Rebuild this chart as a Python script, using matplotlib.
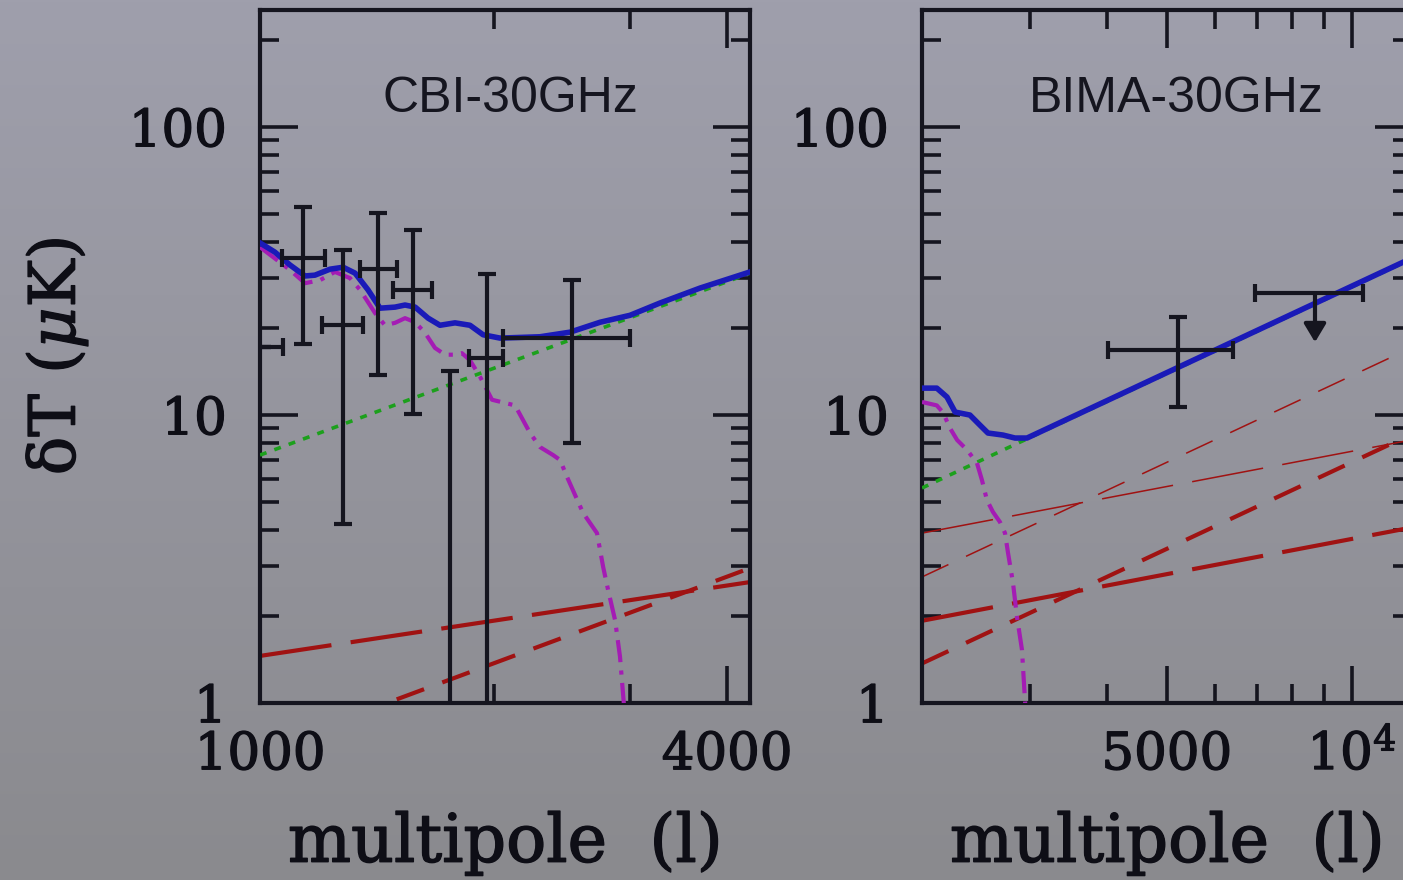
import numpy as np
import matplotlib
matplotlib.use("Agg")
import matplotlib.pyplot as plt
import matplotlib.patheffects as pe
from matplotlib.ticker import FixedLocator, FixedFormatter, NullFormatter

# ---------------- data ----------------
# CBI-30GHz panel
cbi_tot_l = [1000, 1045, 1093, 1143, 1177, 1231, 1280, 1326, 1378, 1428, 1493, 1538,
             1585, 1647, 1706, 1784, 1865, 1939, 2039, 2296, 2510, 2744, 2999, 3279,
             3692, 4282]
cbi_tot_T = [39.6, 36.8, 33.2, 30.4, 30.6, 32.1, 32.6, 31.1, 27.2, 23.5, 23.7, 24.1,
             23.7, 21.7, 20.5, 20.9, 20.5, 19.0, 18.5, 18.7, 19.4, 21.0, 22.2, 24.5,
             27.6, 31.4]
cbi_cmb_l = [1000, 1093, 1143, 1195, 1249, 1306, 1346, 1407, 1449, 1493, 1538, 1585,
             1632, 1681, 1732, 1784, 1821, 1865, 1921, 1962, 1991, 2132, 2229, 2296,
             2387, 2437, 2488, 2609, 2719, 2769, 2810, 2869, 2911, 2946, 2960]
cbi_cmb_T = [38.3, 31.9, 28.7, 29.4, 31.4, 29.9, 27.2, 22.6, 20.5, 20.9, 21.7, 21.0,
             19.3, 17.1, 16.2, 16.2, 16.4, 15.5, 13.6, 12.2, 11.3, 10.8, 8.66, 7.74,
             7.26, 6.98, 6.09, 4.57, 3.89, 2.97, 2.47, 1.94, 1.45, 0.98, 0.8]
cbi_ps_l = [1000, 4282]
cbi_ps_T = [7.26, 31.1]
cbi_red1_l = [1000, 4282]          # shallow, long dashes
cbi_red1_T = [1.457, 2.63]
cbi_red2_l = [1000, 4282]          # steep, short dashes
cbi_red2_T = [0.686, 2.94]

cbi_pt_l = [1005, 1136, 1280, 1419, 1575, 1758, 1962, 2525]
cbi_pt_l_lo = [990, 1067, 1202, 1346, 1484, 1758, 1860, 2057]
cbi_pt_l_hi = [1071, 1213, 1358, 1502, 1666, 1758, 2057, 2999]
cbi_pt_T = [17.2, 35.1, 20.5, 32.1, 27.2, 0.5, 15.8, 18.5]
cbi_pt_T_lo = [17.2, 17.6, 4.18, 13.8, 10.1, 0.3, 0.3, 8.0]
cbi_pt_T_hi = [17.2, 52.7, 37.4, 50.3, 43.9, 14.2, 30.9, 29.4]

# BIMA-30GHz panel
bima_tot_l = [2000, 2114, 2196, 2264, 2393, 2484, 2560, 2709, 2833, 2963, 12524]
bima_tot_T = [12.4, 12.4, 11.55, 10.24, 10.0, 9.23, 8.66, 8.52, 8.32, 8.32, 35.1]
bima_cmb_l = [2000, 2114, 2164, 2220, 2281, 2368, 2457, 2503, 2550, 2608, 2678, 2729,
              2760, 2812, 2854, 2908, 2941, 2960]
bima_cmb_T = [11.1, 10.8, 10.2, 9.02, 8.19, 7.56, 6.81, 5.95, 5.07, 4.61, 4.25, 3.89,
              3.32, 2.61, 1.99, 1.53, 1.02, 0.85]
bima_ps_l = [2000, 12524]
bima_ps_T = [5.58, 34.9]
bima_red1_l = [2000, 12524]        # thick shallow
bima_red1_T = [1.93, 4.07]
bima_red2_l = [2000, 12524]        # thick steep
bima_red2_T = [1.372, 8.59]
bima_red3_l = [2000, 12524]        # thin shallow
bima_red3_T = [3.89, 8.2]
bima_red4_l = [2000, 12524]        # thin steep
bima_red4_T = [2.74, 17.16]

bima_pt_l = [5216]
bima_pt_l_lo = [4008]
bima_pt_l_hi = [6409]
bima_pt_T = [16.8]
bima_pt_T_lo = [10.7]
bima_pt_T_hi = [21.9]

bima_ul_l = [8710]
bima_ul_l_lo = [6959]
bima_ul_l_hi = [10425]
bima_ul_T = [26.5]
bima_ul_tip = [17.9]

y_major = [1, 10, 100]
y_major_labels = ['1', '10', '100']
y_minor = [2, 3, 4, 5, 6, 7, 8, 9, 20, 30, 40, 50, 60, 70, 80, 90, 200]

cbi_x_major = [1000, 4000]
cbi_x_labels = ['1000', '4000']
cbi_x_minor = [2000, 3000]
bima_x_major = [5000, 10000]
bima_x_labels = ['5000', r'$\mathdefault{10^{4}}$']
bima_x_minor = [2000, 3000, 4000, 6000, 7000, 8000, 9000]

# ---------------- style ----------------
plt.rcParams['font.family'] = ['DejaVu Serif']
plt.rcParams['mathtext.fontset'] = 'dejavuserif'
plt.rcParams['lines.scale_dashes'] = False

ink = '#15151f'
txt = '#0e0e16'
c_blue = '#1a1ab8'
c_mag = '#a41cb4'
c_green = '#1ca01c'
c_red = '#a01212'
bold = [pe.withStroke(linewidth=1.0, foreground=txt)]

fig = plt.figure(figsize=(14.03, 8.8), dpi=100)

bg = fig.add_axes([0, 0, 1, 1], zorder=-10)
g = np.linspace(0, 1, 256)[:, None, None]
top = np.array([159, 159, 172]) / 255.0
bot = np.array([138, 138, 142]) / 255.0
bg.imshow(top + (bot - top) * g, aspect='auto', extent=[0, 1, 0, 1])
bg.set_axis_off()

ax1 = fig.add_axes([260 / 1403, 177 / 880, 490 / 1403, 693 / 880])
ax2 = fig.add_axes([922 / 1403, 177 / 880, 490 / 1403, 693 / 880])


def style(ax, xlim, major, labels, minor, title, tx):
    ax.set_xscale('log')
    ax.set_yscale('log')
    ax.set_xlim(*xlim)
    ax.set_ylim(1, 255)
    ax.set_facecolor('none')
    for s in ax.spines.values():
        s.set_linewidth(3.0)
        s.set_color(ink)
    ax.xaxis.set_major_locator(FixedLocator(major))
    ax.xaxis.set_major_formatter(FixedFormatter(labels))
    ax.xaxis.set_minor_locator(FixedLocator(minor))
    ax.xaxis.set_minor_formatter(NullFormatter())
    ax.yaxis.set_major_locator(FixedLocator(y_major))
    ax.yaxis.set_major_formatter(FixedFormatter(y_major_labels))
    ax.yaxis.set_minor_locator(FixedLocator(y_minor))
    ax.yaxis.set_minor_formatter(NullFormatter())
    ax.tick_params(which='both', direction='in', top=True, right=True,
                   color=ink, width=2.6, labelcolor=txt)
    ax.tick_params(which='major', length=27, labelsize=37)
    ax.tick_params(which='minor', length=14)
    ax.tick_params(axis='x', which='major', pad=20)
    ax.tick_params(axis='y', which='major', pad=24)
    xl = ax.set_xlabel('multipole  (l)', fontsize=48, color=txt)
    xl.set_path_effects(bold)
    ax.xaxis.set_label_coords(0.5, -0.155)
    ax.text(tx, 0.853, title, transform=ax.transAxes, ha='center', va='baseline',
            fontsize=36, family='Liberation Sans', color=ink)


style(ax1, (1000, 4282), cbi_x_major, cbi_x_labels, cbi_x_minor, 'CBI-30GHz', 0.512)
style(ax2, (2000, 12524), bima_x_major, bima_x_labels, bima_x_minor, 'BIMA-30GHz', 0.518)

yl = ax1.set_ylabel(r'δT ($\mu$K)', fontsize=46, color=txt)
yl.set_path_effects(bold)
ax1.yaxis.set_label_coords(-0.347, 0.5)

# ---------------- CBI panel ----------------
ax1.plot(cbi_red1_l, cbi_red1_T, color=c_red, lw=3.0, dashes=(52, 14), zorder=2)
ax1.plot(cbi_red2_l, cbi_red2_T, color=c_red, lw=3.0, dashes=(21, 14), zorder=2)
ax1.plot(cbi_ps_l, cbi_ps_T, color=c_green, lw=2.6, dashes=(5, 6), zorder=3)
ax1.plot(cbi_cmb_l, cbi_cmb_T, color=c_mag, lw=3.0, dashes=(16, 6, 3, 6), zorder=3)
ax1.plot(cbi_tot_l, cbi_tot_T, color=c_blue, lw=4.0, zorder=4)

ekw = dict(fmt='none', ecolor=ink, elinewidth=3.0, capsize=6.5, capthick=3.0, zorder=6)
xe = [np.subtract(cbi_pt_l, cbi_pt_l_lo), np.subtract(cbi_pt_l_hi, cbi_pt_l)]
ye = [np.subtract(cbi_pt_T, cbi_pt_T_lo), np.subtract(cbi_pt_T_hi, cbi_pt_T)]
ax1.errorbar(cbi_pt_l, cbi_pt_T, xerr=xe, yerr=ye, **ekw)

# ---------------- BIMA panel ----------------
ax2.plot(bima_red3_l, bima_red3_T, color=c_red, lw=1.1, dashes=(52, 14), zorder=2)
ax2.plot(bima_red4_l, bima_red4_T, color=c_red, lw=1.1, dashes=(21, 14), zorder=2)
ax2.plot(bima_red1_l, bima_red1_T, color=c_red, lw=3.0, dashes=(52, 14), zorder=2)
ax2.plot(bima_red2_l, bima_red2_T, color=c_red, lw=3.0, dashes=(21, 14), zorder=2)
ax2.plot(bima_ps_l, bima_ps_T, color=c_green, lw=2.6, dashes=(5, 6), zorder=3)
ax2.plot(bima_cmb_l, bima_cmb_T, color=c_mag, lw=3.0, dashes=(16, 6, 3, 6), zorder=3)
ax2.plot(bima_tot_l, bima_tot_T, color=c_blue, lw=4.0, zorder=4)

xe = [np.subtract(bima_pt_l, bima_pt_l_lo), np.subtract(bima_pt_l_hi, bima_pt_l)]
ye = [np.subtract(bima_pt_T, bima_pt_T_lo), np.subtract(bima_pt_T_hi, bima_pt_T)]
ax2.errorbar(bima_pt_l, bima_pt_T, xerr=xe, yerr=ye, **ekw)

xe = [np.subtract(bima_ul_l, bima_ul_l_lo), np.subtract(bima_ul_l_hi, bima_ul_l)]
ax2.errorbar(bima_ul_l, bima_ul_T, xerr=xe, **ekw)
for l, t0, t1 in zip(bima_ul_l, bima_ul_T, bima_ul_tip):
    ax2.annotate('', xy=(l, t1), xytext=(l, t0),
                 arrowprops=dict(arrowstyle='-|>,head_length=0.55,head_width=0.33',
                                 mutation_scale=20, lw=3.0, color=ink,
                                 shrinkA=0, shrinkB=0), zorder=6)

# thicken the serif tick labels to match the heavy original lettering
fig.canvas.draw()
for ax in (ax1, ax2):
    for t in ax.xaxis.get_major_ticks() + ax.yaxis.get_major_ticks():
        t.label1.set_path_effects(bold)

fig.savefig('out.png', dpi=100)
